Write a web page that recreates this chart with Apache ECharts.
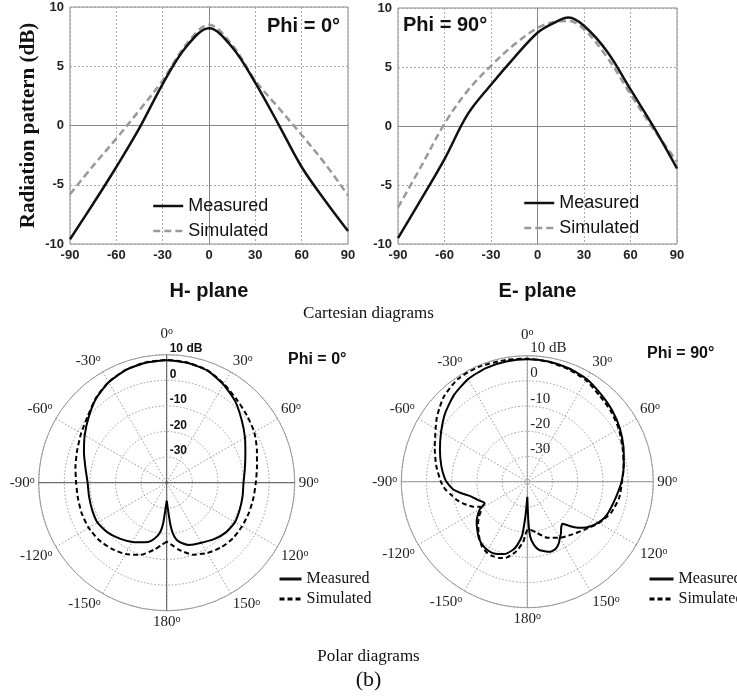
<!DOCTYPE html>
<html>
<head>
<meta charset="utf-8">
<script src="https://cdn.jsdelivr.net/npm/echarts@6/dist/echarts.min.js"></script>
<style>
  html, body { margin: 0; padding: 0; background: #fff; }
  #chart { width: 737px; height: 698px; }
</style>
</head>
<body>
<div id="chart"></div>
<script>
// ---- Cartesian cuts (theta in degrees, gain in dB) ----
const hAngles    = [-90, -75, -60, -45, -30, -15, 0, 15, 30, 45, 60, 75, 90];
const hMeasured  = [-9.6, -6.6, -3.5, -0.2, 3.5, 6.6, 8.2, 6.6, 3.6, 0.1, -3.5, -6.3, -8.9];
const hSimulated = [-5.8, -3.4, -1.1, 1.3, 3.8, 6.8, 8.5, 6.8, 3.8, 1.5, -0.8, -3.2, -5.9];

const eAngles    = [-90, -75, -60, -45, -30, -15, 0, 10, 20, 30, 45, 60, 75, 90];
const eMeasured  = [-9.5, -6.2, -2.8, 1.0, 3.5, 5.8, 7.9, 8.7, 9.2, 8.5, 6.3, 3.1, -0.1, -3.6];
const eSimulated = [-6.9, -3.4, 0.2, 3.0, 5.1, 6.9, 8.3, 8.8, 8.9, 8.2, 5.8, 2.7, -0.3, -3.0];

const xTicks = [-90, -60, -30, 0, 30, 60, 90];
const yTicks = [-10, -5, 0, 5, 10];

// ---- Polar cuts, Phi = 0 deg ----
const p0MeasAngles = [-180, -177, -175, -173, -170, -165, -160, -150, -140, -130, -120, -110, -100, -90,
  -80, -70, -60, -50, -40, -30, -20, -10, 0, 10, 20, 30, 40, 50, 60, 70, 80, 90, 100, 110, 120, 130,
  140, 150, 160, 165, 170, 173, 175, 177, 180];
const p0MeasValues = [-33, -29, -24, -21, -18.8, -16.5, -15.2, -13.3, -11.5, -9.8, -8.8, -9.0, -9.2, -9.1,
  -7.8, -5.6, -3.0, -0.2, 2.9, 5.3, 6.8, 7.6, 7.8, 7.5, 6.6, 4.3, 1.6, -1.8, -4.7, -7.3, -9.0, -10.0,
  -9.9, -9.6, -9.2, -9.8, -11.2, -12.9, -14.1, -15.4, -17.3, -20, -23.5, -29, -33];

const p0SimAngles = [-180, -175, -170, -160, -150, -140, -130, -120, -110, -100, -90, -80, -70, -60, -50,
  -40, -30, -20, -10, 0, 10, 20, 30, 40, 50, 60, 70, 80, 90, 100, 110, 120, 130, 140, 150, 160, 170, 175, 180];
const p0SimValues = [-17, -15.5, -13.6, -10.0, -7.8, -6.4, -5.3, -4.8, -4.7, -4.8, -4.6, -3.8, -2.8, -1.4, 0.3,
  3.1, 5.4, 6.9, 7.7, 7.9, 7.6, 6.7, 4.6, 2.5, 0.9, -0.5, -2.5, -4.2, -5.2, -5.6, -5.8, -6.0, -6.2, -7.0,
  -8.3, -10.1, -13.5, -15.5, -17];

// ---- Polar cuts, Phi = 90 deg ----
const p90MeasAngles = [-180, -178, -176.5, -174.5, -171, -168, -162, -155, -150, -145, -140, -134, -128,
  -124, -120, -117, -114, -110, -106, -103, -100, -96, -92, -88, -80, -70, -60, -50, -40, -30, -20, -10,
  0, 10, 20, 30, 40, 50, 60, 70, 80, 90, 100, 110, 115, 120, 125, 130, 134, 138, 140, 143, 147, 150,
  153, 157, 162, 166, 170, 174, 177, 178.5, 180];
const p90MeasValues = [-34, -30, -25, -18.5, -14.5, -12.3, -9.8, -8.6, -8.6, -9.2, -10.3, -12.4, -14.5,
  -16.3, -18.3, -21, -20.5, -19, -17.5, -15.9, -13.5, -10.5, -8.7, -7.3, -5.4, -3.1, -0.5, 2.5, 5.1, 7.0,
  8.0, 8.4, 8.6, 8.4, 7.9, 7.1, 5.4, 4.0, 2.4, 0.6, -1.1, -2.6, -4.3, -5.5, -6.2, -7.5, -9.2, -11.5,
  -14.0, -17.0, -18.2, -17.6, -15.5, -14.2, -12.5, -11.1, -10.8, -11.6, -12.4, -14.8, -18.2, -24.8, -34];

const p90SimAngles = [-180, -178, -176, -171, -165, -160, -155, -150, -145, -140, -135, -130, -125, -121,
  -118, -115, -110, -105, -100, -95, -90, -80, -70, -60, -55, -50, -44, -34, -23, -10, 0, 10, 20, 30, 40,
  50, 60, 70, 80, 90, 100, 110, 120, 130, 140, 150, 160, 170, 177, 180];
const p90SimValues = [-21, -19, -16, -12, -8.9, -7.8, -7.4, -7.7, -8.6, -10.5, -12.6, -14.5, -16.8, -18.8,
  -18.8, -16.5, -13.8, -11.3, -9.4, -7.2, -5.7, -3.3, -0.9, 2.0, 3.9, 5.5, 7.4, 9.2, 9.5, 9.1, 8.8, 8.3,
  7.5, 6.5, 4.6, 3.4, 1.9, 0.2, -1.2, -2.4, -3.0, -4.5, -7.2, -10.4, -12.6, -14.3, -16.3, -19.5, -21, -21];

const radialTicks = [-40, -30, -20, -10, 0, 10];

// ---- helpers ----
const pairs = (xs, ys) => xs.map((x, i) => [x, ys[i]]);
// polar series take [radius, angle]; angle axis runs 0..360 clockwise from the top
const polarPairs = (angles, vals) => angles.map((a, i) => [vals[i], a < 0 ? a + 360 : a]);

const sans = 'Liberation Sans';
const serif = 'Liberation Serif';

function cartX(gridIndex, name) {
  return {
    type: 'value', gridIndex, min: xTicks[0], max: xTicks[xTicks.length - 1],
    interval: xTicks[1] - xTicks[0],
    name, nameLocation: 'middle', nameGap: 37,
    nameTextStyle: { fontFamily: sans, fontWeight: 'bold', fontSize: 20, color: '#111' },
    axisLine: { show: true, lineStyle: { color: '#888', width: 1 } },
    axisTick: { show: false },
    axisLabel: { margin: 5, fontFamily: sans, fontWeight: 'bold', fontSize: 13, color: '#222' },
    splitLine: { show: true, lineStyle: { color: '#aaa', type: [2, 2], width: 1 } }
  };
}
function cartY(gridIndex, name) {
  return {
    type: 'value', gridIndex, min: yTicks[0], max: yTicks[yTicks.length - 1],
    interval: yTicks[1] - yTicks[0],
    name, nameLocation: 'middle', nameGap: 31, nameRotate: 90,
    nameTextStyle: { fontFamily: serif, fontWeight: 'bold', fontSize: 21, color: '#111' },
    axisLine: { show: true, lineStyle: { color: '#888', width: 1 } },
    axisTick: { show: false },
    axisLabel: { margin: 6, fontFamily: sans, fontWeight: 'bold', fontSize: 13, color: '#222' },
    splitLine: { show: true, lineStyle: { color: '#aaa', type: [2, 2], width: 1 } }
  };
}

function angleLabel(v) {
  if (v === 360) return '';
  const n = v > 180 ? v - 360 : v;
  if (v === 0) return '{a|0}{s|o}\n{g| }';
  return '{a|' + n + '}{s|o}';
}
const angleRich = {
  a: { fontFamily: serif, fontSize: 15, color: '#222' },
  s: { fontFamily: serif, fontSize: 10, color: '#222', verticalAlign: 'top', lineHeight: 15 },
  g: { fontSize: 6, lineHeight: 9 }
};

function angleMain(polarIndex) {
  return {
    polarIndex, type: 'value', min: 0, max: 360, interval: 30, startAngle: 90, clockwise: true,
    axisLine: { show: true, lineStyle: { color: '#999', width: 1 } },
    axisTick: { show: false },
    axisLabel: { margin: 4, formatter: angleLabel, rich: angleRich },
    splitLine: { show: true, lineStyle: { color: '#999', type: [1.5, 2], width: 1 } },
    z: 1
  };
}
function angleCross(polarIndex, color) {
  return {
    polarIndex, type: 'value', min: 0, max: 360, interval: 90, startAngle: 90, clockwise: true,
    axisLine: { show: false }, axisTick: { show: false }, axisLabel: { show: false },
    splitLine: { show: true, lineStyle: { color, type: 'solid', width: 1 } },
    z: 2
  };
}
function radiusMain(polarIndex, labelStyle) {
  return {
    polarIndex, type: 'value', min: radialTicks[0], max: radialTicks[radialTicks.length - 1],
    interval: 10,
    axisLine: { show: false }, axisTick: { show: false },
    axisLabel: Object.assign({
      margin: -3, align: 'left', verticalAlign: 'bottom',
      formatter: v => (v === radialTicks[0] ? '' : (v === 10 ? '10 dB' : String(v)))
    }, labelStyle),
    splitLine: { show: true, lineStyle: { color: '#999', type: [1.5, 2], width: 1 } },
    z: 3
  };
}
function radiusHidden(polarIndex) {
  return {
    polarIndex, type: 'value', min: -40, max: 10,
    axisLine: { show: false }, axisTick: { show: false }, axisLabel: { show: false },
    splitLine: { show: false }
  };
}

const lineSeries = (name, xAxisIndex, data, color, width, type) => ({
  name, type: 'line', xAxisIndex, yAxisIndex: xAxisIndex, data,
  symbol: 'none', smooth: 0.35,
  lineStyle: { color, width, type }, itemStyle: { color }, z: 5
});
const polarSeries = (name, polarIndex, data, type) => ({
  name, type: 'line', coordinateSystem: 'polar', polarIndex, data,
  symbol: 'none', smooth: 0.2,
  lineStyle: { color: '#000', width: 2, type }, itemStyle: { color: '#000' }, z: 5
});

function legendAt(left, top, iw, font, size, simColor, simDash, w, gap) {
  return {
    left, top, orient: 'vertical', itemWidth: iw, itemHeight: 12, itemGap: gap,
    selectedMode: false, padding: 0,
    textStyle: { fontFamily: font, fontSize: size, color: '#111' },
    data: [
      { name: 'Measured', lineStyle: { color: '#111', width: w, type: 'solid' }, itemStyle: { opacity: 0 } },
      { name: 'Simulated', lineStyle: { color: simColor, width: w, type: simDash }, itemStyle: { opacity: 0 } }
    ]
  };
}

const titleStyle = (size, font, weight) => ({ fontFamily: font, fontSize: size, fontWeight: weight, color: '#111' });

const option = {
  backgroundColor: '#fff',
  animation: false,
  title: [
    { text: 'Phi = 0°', left: 267, top: 16, padding: 0, textStyle: titleStyle(20, sans, 'bold') },
    { text: 'Phi = 90°', left: 403, top: 15, padding: 0, textStyle: titleStyle(20, sans, 'bold') },
    { text: 'Cartesian diagrams', left: 'center', top: 305, padding: 0, textStyle: titleStyle(17, serif, 'normal') },
    { text: 'Phi = 0°', left: 288, top: 352, padding: 0, textStyle: titleStyle(16, sans, 'bold') },
    { text: 'Phi = 90°', left: 647, top: 346, padding: 0, textStyle: titleStyle(16, sans, 'bold') },
    { text: 'Polar diagrams', left: 'center', top: 648, padding: 0, textStyle: titleStyle(17, serif, 'normal') },
    { text: '(b)', left: 'center', top: 669, padding: 0, textStyle: titleStyle(22, serif, 'normal') }
  ],
  legend: [
    legendAt(152, 197, 30, sans, 18, '#999', [7, 4], 2.5, 7),
    legendAt(523, 194, 30, sans, 18, '#999', [7, 4], 2.5, 7),
    legendAt(278, 571, 22, serif, 16, '#000', [5, 3], 3, 4),
    legendAt(648, 571, 24, serif, 16, '#000', [5, 3], 3, 4)
  ],
  grid: [
    { left: 70, top: 7, width: 278, height: 237, show: true, borderColor: '#888', borderWidth: 1 },
    { left: 398, top: 8, width: 279, height: 236, show: true, borderColor: '#888', borderWidth: 1 }
  ],
  xAxis: [cartX(0, 'H- plane'), cartX(1, 'E- plane')],
  yAxis: [cartY(0, 'Radiation pattern (dB)'), cartY(1, '')],
  polar: [
    { center: [166.7, 482.7], radius: [0, 128] },
    { center: [527.3, 481.7], radius: [0, 126] },
    { center: [166.7, 482.7], radius: [0, 128] },
    { center: [527.3, 481.7], radius: [0, 126] }
  ],
  angleAxis: [angleMain(0), angleMain(1), angleCross(2, '#555'), angleCross(3, '#999')],
  radiusAxis: [
    radiusMain(0, { fontFamily: sans, fontWeight: 'bold', fontSize: 12, color: '#111' }),
    radiusMain(1, { fontFamily: serif, fontSize: 15, color: '#222' }),
    radiusHidden(2), radiusHidden(3)
  ],
  series: [
    lineSeries('Simulated', 0, pairs(hAngles, hSimulated), '#999', 2.5, [7, 4]),
    lineSeries('Measured', 0, pairs(hAngles, hMeasured), '#111', 2.5, 'solid'),
    lineSeries('Simulated', 1, pairs(eAngles, eSimulated), '#999', 2.5, [7, 4]),
    lineSeries('Measured', 1, pairs(eAngles, eMeasured), '#111', 2.5, 'solid'),
    polarSeries('Simulated', 0, polarPairs(p0SimAngles, p0SimValues), [5, 3]),
    polarSeries('Measured', 0, polarPairs(p0MeasAngles, p0MeasValues), 'solid'),
    polarSeries('Simulated', 1, polarPairs(p90SimAngles, p90SimValues), [5, 3]),
    polarSeries('Measured', 1, polarPairs(p90MeasAngles, p90MeasValues), 'solid')
  ]
};

const chart = echarts.init(document.getElementById('chart'), null, { renderer: 'canvas' });
chart.setOption(option);
</script>
</body>
</html>
